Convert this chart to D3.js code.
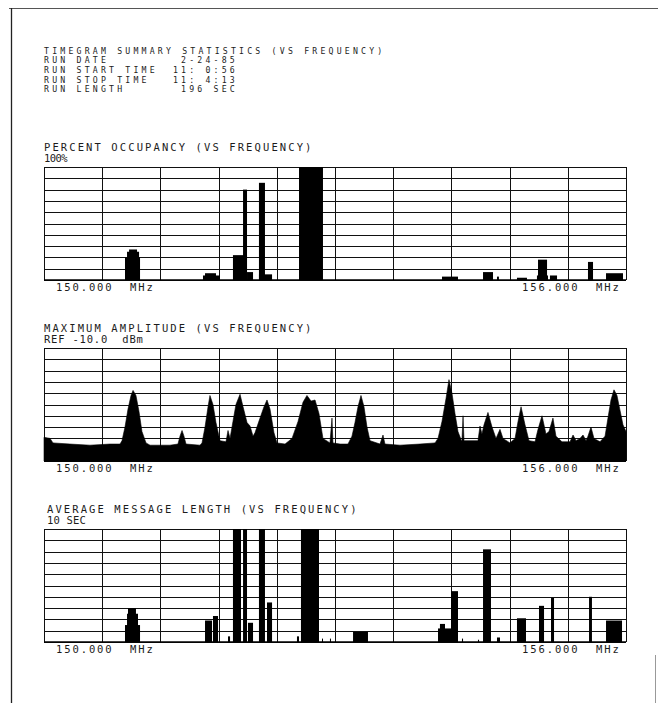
<!DOCTYPE html>
<html lang="en">
<head>
<meta charset="utf-8">
<title>Timegram Summary Statistics</title>
<script type="text/javascript" src="https://d3js.org/d3.v7.min.js"></script>
<style>
  body { margin: 0; background: #fff; }
  text { font-family: "DejaVu Sans Mono", monospace; font-size: 10.5px; fill: #1c1c1c; white-space: pre; }
  text.head { font-size: 8.2px; letter-spacing: 3.2px; }
  .grid line { stroke: #111; stroke-width: 1; shape-rendering: crispEdges; }
  .grid path { display: none; }
</style>
</head>
<body>
<script type="text/javascript">

// header block
var headerTitle = "TIMEGRAM SUMMARY STATISTICS (VS FREQUENCY)";
var headerLabels = ["RUN DATE", "RUN START TIME", "RUN STOP TIME", "RUN LENGTH"];
var headerValues = ["2-24-85", "11: 0:56", "11: 4:13", "196 SEC"];

var panelTitles = ["PERCENT OCCUPANCY (VS FREQUENCY)", "MAXIMUM AMPLITUDE (VS FREQUENCY)", "AVERAGE MESSAGE LENGTH (VS FREQUENCY)"];
var panelRefs = ["100%", "REF -10.0  dBm", "10 SEC"];
var freqStartLabel = "150.000  MHz";
var freqStopLabel = "156.000  MHz";
var freqDomain = [150, 156];

// percent occupancy: [start MHz, stop MHz, percent]
var occupancy = [
  [150.835, 150.990, 20], [150.856, 150.980, 25], [150.877, 150.959, 27],
  [151.639, 151.814, 4], [151.660, 151.773, 6],
  [151.948, 152.093, 22], [152.052, 152.093, 80], [152.093, 152.155, 7],
  [152.216, 152.351, 5], [152.216, 152.278, 86],
  [152.629, 152.876, 100],
  [154.103, 154.268, 3],
  [154.526, 154.629, 7], [154.670, 154.690, 3],
  [154.876, 154.979, 2],
  [155.082, 155.196, 4], [155.093, 155.186, 18],
  [155.216, 155.289, 4],
  [155.608, 155.660, 16],
  [155.794, 155.969, 6]
];

// maximum amplitude trace: [MHz, dBm]
var amplitude = [
  [150.000, -89], [150.062, -90], [150.093, -94], [150.268, -95], [150.474, -96],
  [150.680, -95], [150.784, -95], [150.804, -92], [150.835, -80], [150.866, -64],
  [150.897, -52], [150.918, -47.5], [150.948, -52], [150.979, -66], [151.010, -84],
  [151.052, -94], [151.093, -96],
  [151.299, -96], [151.381, -95], [151.402, -88], [151.423, -83], [151.443, -88],
  [151.464, -95], [151.608, -96], [151.629, -94], [151.660, -80], [151.691, -62],
  [151.711, -52], [151.742, -60], [151.773, -76], [151.814, -92], [151.876, -93],
  [151.897, -83], [151.918, -90], [151.948, -75], [151.979, -60], [152.021, -51],
  [152.052, -62], [152.093, -76], [152.124, -79], [152.155, -88], [152.175, -85],
  [152.227, -72], [152.268, -62], [152.299, -56], [152.330, -64], [152.371, -85],
  [152.402, -94], [152.485, -95], [152.557, -90], [152.619, -75], [152.670, -58],
  [152.711, -52], [152.753, -57], [152.794, -56], [152.835, -68], [152.876, -90],
  [152.948, -94], [152.969, -72], [152.979, -94], [153.052, -95], [153.134, -95],
  [153.175, -88], [153.206, -76], [153.237, -62], [153.268, -52], [153.299, -62],
  [153.330, -80], [153.361, -92], [153.464, -95], [153.495, -87], [153.515, -95],
  [153.670, -96], [153.876, -95], [154.031, -94], [154.062, -90], [154.103, -75],
  [154.144, -55], [154.175, -38], [154.206, -50], [154.237, -68], [154.268, -84],
  [154.299, -91], [154.309, -92], [154.320, -70], [154.330, -92],
  [154.474, -92], [154.495, -79], [154.515, -86], [154.536, -78], [154.577, -67],
  [154.619, -80], [154.660, -90], [154.701, -82], [154.732, -90], [154.804, -94],
  [154.856, -90], [154.887, -75], [154.918, -62], [154.959, -78], [155.000, -92],
  [155.062, -93], [155.093, -82], [155.134, -70], [155.175, -86], [155.206, -84],
  [155.247, -72], [155.278, -88], [155.340, -93], [155.423, -93], [155.454, -87],
  [155.485, -92], [155.526, -90], [155.557, -87], [155.588, -92], [155.608, -88],
  [155.639, -80], [155.670, -90], [155.732, -93], [155.784, -88], [155.814, -72],
  [155.845, -56], [155.876, -47], [155.907, -52], [155.938, -65], [155.969, -78],
  [156.000, -84]
];

// average message length: [start MHz, stop MHz, seconds]
var msgLength = [
  [150.835, 150.990, 1.5], [150.856, 150.969, 2.5], [150.866, 150.948, 3.0],
  [151.660, 151.732, 1.9], [151.742, 151.794, 2.3],
  [151.897, 151.918, 0.5],
  [151.948, 152.031, 10], [152.052, 152.093, 10], [152.103, 152.155, 1.7],
  [152.216, 152.278, 10], [152.299, 152.351, 3.5],
  [152.608, 152.629, 0.5],
  [152.649, 152.835, 10],
  [152.866, 152.876, 0.3], [152.948, 152.958, 0.3],
  [153.186, 153.340, 0.9],
  [154.062, 154.196, 1.2], [154.082, 154.134, 1.6], [154.196, 154.268, 4.5],
  [154.309, 154.320, 0.3], [154.474, 154.485, 0.2],
  [154.526, 154.608, 8.2],
  [154.670, 154.701, 0.4],
  [154.876, 154.969, 2.1],
  [155.103, 155.155, 3.2],
  [155.227, 155.258, 3.9],
  [155.619, 155.649, 4.0],
  [155.794, 155.959, 1.9]
];

var w = 658;
var h = 703;
var left = 44, right = 626;
var panelH = 113;
var panelTops = [167, 348, 529];

var svg = d3.select("body")
            .append("svg")
            .attr("width", w)
            .attr("height", h);

// page frame
svg.append("line").attr("x1", 9).attr("x2", 658).attr("y1", 8.5).attr("y2", 8.5)
   .attr("stroke", "#555").attr("stroke-width", 1);
svg.append("line").attr("x1", 11.5).attr("x2", 11.5).attr("y1", 8).attr("y2", h)
   .attr("stroke", "#222").attr("stroke-width", 1.3);
svg.append("line").attr("x1", 655.5).attr("x2", 655.5).attr("y1", 655).attr("y2", h)
   .attr("stroke", "#999").attr("stroke-width", 1);

svg.append("text").attr("class", "head").attr("x", 44).attr("y", 53.5)
   .text(headerTitle);

headerLabels.forEach(function(d, i) {
    var yy = 63.2 + i * 9.65;
    svg.append("text").attr("class", "head").attr("x", 44).attr("y", yy)
       .text(d);
    svg.append("text").attr("class", "head").attr("x", 238).attr("y", yy)
       .attr("text-anchor", "end")
       .text(headerValues[i]);
});

var xScale = d3.scaleLinear().domain(freqDomain).range([left, right]);
var xGrid = d3.range(0, 11).map(function(i) { return freqDomain[0] + i * 0.6; });

var yScales = [
    d3.scaleLinear().domain([0, 100]),
    d3.scaleLinear().domain([-110, -10]),
    d3.scaleLinear().domain([0, 10])
];
var yGrids = [
    d3.range(0, 101, 10),
    d3.range(-110, -9, 10),
    d3.range(0, 11, 1)
];
var titleX = [44, 44, 47];
var refSpacing = ["-0.6px", "0.8px", "0.2px"];

panelTops.forEach(function(top, i) {
    var bottom = top + panelH;
    var yScale = yScales[i].range([bottom, top]);
    var g = svg.append("g");

    g.append("text").attr("x", titleX[i]).attr("y", top - 16)
     .style("letter-spacing", "2.1px").text(panelTitles[i]);
    g.append("text").attr("x", titleX[i]).attr("y", top - 5)
     .style("letter-spacing", refSpacing[i]).text(panelRefs[i]);

    // grid
    g.append("g").attr("class", "grid")
     .attr("transform", "translate(0," + bottom + ")")
     .call(d3.axisBottom(xScale).tickValues(xGrid).tickSize(-panelH).tickFormat(""));
    g.append("g").attr("class", "grid")
     .attr("transform", "translate(" + left + ",0)")
     .call(d3.axisLeft(yScale).tickValues(yGrids[i]).tickSize(-(right - left)).tickFormat(""));

    if (i == 1) {
        var area = d3.area()
            .x(function(d) { return xScale(d[0]); })
            .y0(bottom)
            .y1(function(d) { return yScale(d[1]); });
        g.append("path").datum(amplitude)
         .attr("fill", "#000").attr("stroke", "#000").attr("stroke-width", 0.6)
         .attr("d", area);
    } else {
        var blocks = i == 0 ? occupancy : msgLength;
        g.selectAll("rect.blk").data(blocks).enter().append("rect")
         .attr("class", "blk")
         .attr("x", function(d) { return xScale(d[0]); })
         .attr("width", function(d) { return Math.max(1, xScale(d[1]) - xScale(d[0])); })
         .attr("y", function(d) { return yScale(d[2]); })
         .attr("height", function(d) { return bottom - yScale(d[2]); })
         .attr("fill", "#000");
    }

    g.append("line").attr("x1", left).attr("x2", right).attr("y1", bottom).attr("y2", bottom)
     .attr("stroke", "#000").attr("stroke-width", 1.5);

    g.append("text").attr("x", 56).attr("y", bottom + 11)
     .style("letter-spacing", "1.9px").text(freqStartLabel);
    g.append("text").attr("x", 522).attr("y", bottom + 11)
     .style("letter-spacing", "1.9px").text(freqStopLabel);
});

</script>
</body>
</html>
